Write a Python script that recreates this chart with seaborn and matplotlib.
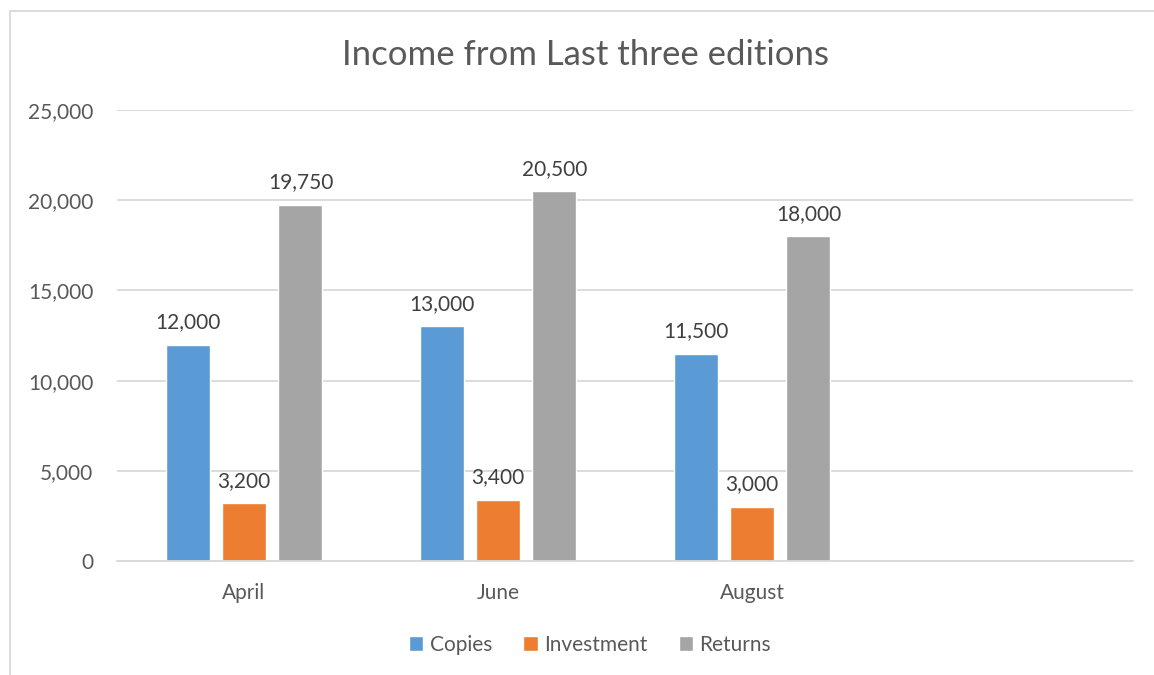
import matplotlib
matplotlib.use("Agg")
import matplotlib.pyplot as plt
import seaborn as sns
import pandas as pd
import numpy as np
from matplotlib.patches import Rectangle

categories = ["April", "June", "August", ""]
series = ["Copies", "Investment", "Returns"]
copies = [12000, 13000, 11500]
investment = [3200, 3400, 3000]
returns = [19750, 20500, 18000]
yticks = [0, 5000, 10000, 15000, 20000, 25000]
colors = ["#5B9BD5", "#ED7D31", "#A5A5A5"]

rows = []
for name, vals in zip(series, [copies, investment, returns]):
    for cat, v in zip(categories[:3], vals):
        rows.append({"cat": cat, "series": name, "value": v})
df = pd.DataFrame(rows)

sns.set_theme(style="white")
plt.rcParams['font.family'] = ['Lato', 'DejaVu Sans']
text_color = "#595959"
fs = 15

fig = plt.figure(figsize=(11.54, 6.75), dpi=100)
W, H = 1154, 675
L, R, T, B = 117, 1133, 110, 561
ax = fig.add_axes([L / W, 1 - B / H, (R - L) / W, (B - T) / H])

sns.barplot(data=df, x="cat", y="value", hue="series", order=categories,
            hue_order=series, palette=colors, width=0.667, gap=0.22,
            saturation=1, ax=ax, legend=True, errorbar=None)

ax.set_xlim(-0.5, 3.5)
ax.set_ylim(0, 25000)
ax.set_yticks(yticks)
ax.set_yticklabels([f"{v:,}" for v in yticks], color=text_color, fontsize=fs)
ax.tick_params(axis="x", labelsize=fs, colors=text_color, length=0, pad=16)
ax.tick_params(axis="y", length=0, pad=17)
ax.set_xlabel("")
ax.set_ylabel("")
ax.yaxis.grid(True, color="#D9D9D9", linewidth=1.3)
ax.set_axisbelow(True)
for s in ["top", "right", "left"]:
    ax.spines[s].set_visible(False)
ax.spines["bottom"].set_color("#D9D9D9")
ax.spines["bottom"].set_linewidth(1.3)

for cont in ax.containers:
    ax.bar_label(cont, labels=[f"{v:,.0f}" if not np.isnan(v) else "" for v in cont.datavalues],
                 padding=9, color="#404040", fontsize=fs)

leg = ax.legend(loc="center", bbox_to_anchor=(590 / W, 1 - 645 / H),
                bbox_transform=fig.transFigure, ncol=3, frameon=False,
                fontsize=fs, handlelength=0.7, handleheight=0.7,
                handletextpad=0.3, columnspacing=1.5)
for t in leg.get_texts():
    t.set_color(text_color)

fig.text(586 / W, 1 - 55 / H, "Income from Last three editions",
         ha="center", va="center", fontsize=25, color=text_color)

fig.patches.append(Rectangle((10 / W, -0.1), 1.2, 1 - 11 / H + 0.1, transform=fig.transFigure,
                             fill=False, edgecolor="#D9D9D9", linewidth=1.3))

fig.savefig("out.png", dpi=100)
